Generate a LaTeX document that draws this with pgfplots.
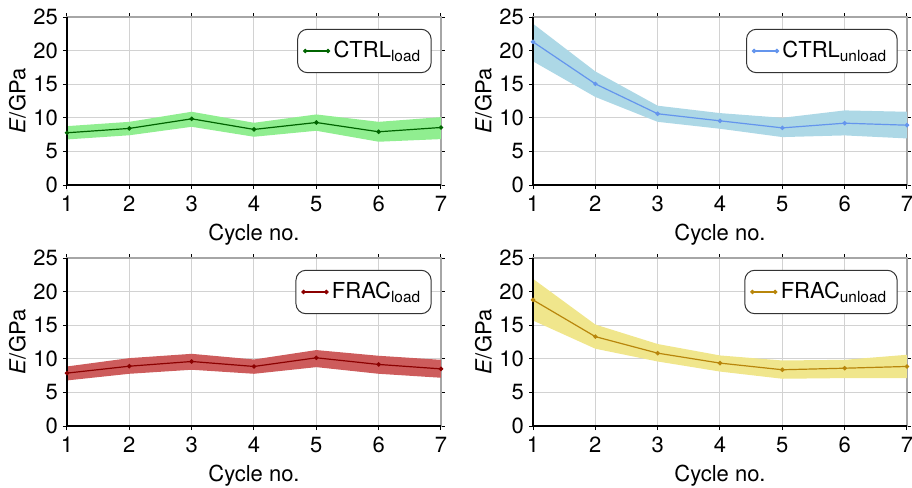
\documentclass[border=0pt]{standalone}
\usepackage{fontspec}
\setmainfont{TeX Gyre Heros}
\usepackage{pgfplots}
\pgfplotsset{compat=1.18}
\usepgfplotslibrary{fillbetween}

\definecolor{bandgreen}{RGB}{144,238,144}
\definecolor{linegreen}{RGB}{0,100,0}
\definecolor{bandblue}{RGB}{173,216,230}
\definecolor{lineblue}{RGB}{100,149,237}
\definecolor{bandred}{RGB}{205,92,92}
\definecolor{linered}{RGB}{139,0,0}
\definecolor{bandyellow}{RGB}{240,230,140}
\definecolor{lineyellow}{RGB}{184,134,11}

% mean, upper and lower edge of the band
\pgfplotstableread{
x  m     u     l
1  7.77  8.76  6.78
2  8.42  9.40  7.40
3  9.85  10.9  8.66
4  8.27  9.26  7.18
5  9.30  10.5  8.07
6  7.92  9.40  6.44
7  8.56  10.1  6.83
}\ctrlload
\pgfplotstableread{
x  m     u     l
1  21.3  24.0  18.4
2  15.05 16.9  13.1
3  10.6  11.8  9.40
4  9.55  10.7  8.37
5  8.50  10.0  7.13
6  9.20  11.1  7.38
7  8.90  10.9  6.93
}\ctrlunload
\pgfplotstableread{
x  m     u     l
1  7.87  8.86  6.78
2  8.90  10.1  7.77
3  9.60  10.74 8.37
4  8.86  9.90  7.77
5  10.15 11.3  8.76
6  9.16  10.45 7.77
7  8.50  9.85  7.18
}\fracload
\pgfplotstableread{
x  m     u     l
1  18.76 21.9  15.7
2  13.3  15.1  11.5
3  10.84 12.2  9.60
4  9.36  10.5  8.10
5  8.37  9.75  7.03
6  8.60  9.85  7.13
7  8.86  10.6  7.13
}\fracunload

\pgfplotsset{
  panel/.style={
    scale only axis, width=187pt, height=84pt,
    xmin=1, xmax=7, ymin=0, ymax=25,
    xtick={1,...,7}, ytick={0,5,...,25},
    grid=major, grid style={gray!35, line width=0.5pt},
    axis line style={gray!70, line width=0.6pt},
    tick align=outside, major tick length=2pt,
    tick style={black, line width=0.5pt},
    tick label style={font=\fontsize{11}{12}\selectfont},
    yticklabel style={xshift=1pt},
    label style={font=\fontsize{11}{12}\selectfont},
    xlabel style={yshift=1pt},
    /pgf/number format/assume math mode=true,
    xlabel={Cycle no.}, ylabel={\textit{E}/GPa},
    ylabel style={yshift=-3pt},
    legend style={at={(0.975,0.93)}, anchor=north east, rounded corners=5pt,
      draw=black!80, line width=0.5pt, font=\fontsize{11}{12}\selectfont,
      inner xsep=3pt, inner ysep=4pt, fill=white},
    legend cell align=left,
    legend image code/.code={%
      \draw[mark repeat=2, mark phase=1, #1] plot coordinates {(0cm,0cm) (0.2cm,0cm) (0.4cm,0cm)};},
    clip=false,
  },
  meanline/.style={line width=0.6pt, mark=*, mark size=0.8pt},
}

\newcommand{\panelbody}[4]{%
  \addplot[name path=up, draw=none, forget plot] table[x=x, y=u] {#1};
  \addplot[name path=lo, draw=none, forget plot] table[x=x, y=l] {#1};
  \addplot[fill=#2, draw=none, forget plot] fill between[of=up and lo];
  \addplot[meanline, color=#3] table[x=x, y=m] {#1};
  \addlegendentry{#4}
  \draw[black, line width=0.6pt] (rel axis cs:0,1) -- (rel axis cs:0,0) -- (rel axis cs:1,0);
}

\begin{document}
\begin{tikzpicture}
\begin{axis}[panel, at={(0pt,0pt)}]
\panelbody{\ctrlload}{bandgreen}{linegreen}{CTRL\textsubscript{load}}
\end{axis}
\begin{axis}[panel, at={(233pt,0pt)}]
\panelbody{\ctrlunload}{bandblue}{lineblue}{CTRL\textsubscript{unload}}
\end{axis}
\begin{axis}[panel, at={(0pt,-120.5pt)}]
\panelbody{\fracload}{bandred}{linered}{FRAC\textsubscript{load}}
\end{axis}
\begin{axis}[panel, at={(233pt,-120.5pt)}]
\panelbody{\fracunload}{bandyellow}{lineyellow}{FRAC\textsubscript{unload}}
\end{axis}
\pgfresetboundingbox
\path (-33.5pt,-151.5pt) rectangle (422.5pt,92.5pt);
\end{tikzpicture}
\end{document}
